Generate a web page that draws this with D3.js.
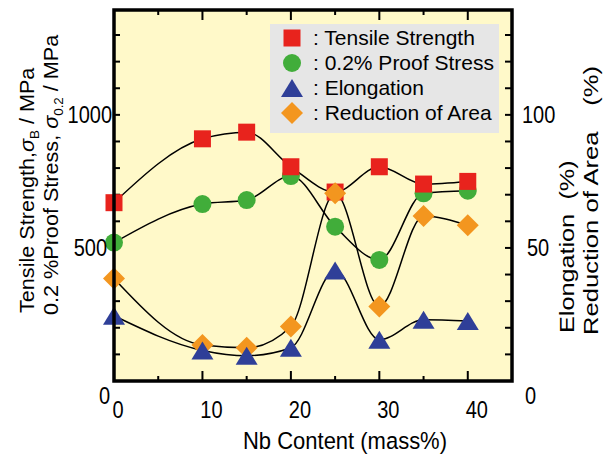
<!DOCTYPE html>
<html>
<head>
<meta charset="utf-8">
<script src="https://cdn.jsdelivr.net/npm/d3@7"></script>
<style>
  html, body { margin: 0; padding: 0; background: #ffffff; }
  svg { display: block; }
  text { font-family: "Liberation Sans", Arial, Helvetica, sans-serif; fill: #000; }
</style>
</head>
<body>
<svg id="chart" width="610" height="456"></svg>
<script>
// Nb content of each alloy (mass%)
const nbContent = [0, 10, 15, 20, 25, 30, 35, 40];
// Strength values (MPa), left axis
const tensileStrength = [670, 910, 935, 805, 710, 805, 740, 750];
const proofStress = [520, 665, 680, 770, 580, 455, 705, 715];
// Ductility values (%), right axis
const elongation = [24.5, 11.5, 9.5, 12.5, 41.5, 15.5, 23, 22.5];
const reductionOfArea = [38.5, 13.5, 12.5, 20.5, 70.5, 28, 62, 58.5];

// Tick values
const xMajorTicks = [10, 20, 30, 40];
const xMinorTicks = [5, 15, 25, 35];
const xTickLabels = ["0", "10", "20", "30", "40"];
const leftTickLabels = ["0", "500", "1000"];
const rightTickLabels = ["0", "50", "100"];

const legendItems = [
  { label: ": Tensile Strength", symbol: "square", color: "#e8231d" },
  { label: ": 0.2% Proof Stress", symbol: "circle", color: "#41ad3a" },
  { label: ": Elongation", symbol: "triangle", color: "#2f3f98" },
  { label: ": Reduction of Area", symbol: "diamond", color: "#f3961f" }
];

const svg = d3.select("#chart");
const plot = { left: 114, right: 512, top: 10, bottom: 381 };

const x = d3.scaleLinear().domain([0, 45]).range([plot.left, plot.right]);
const yLeft = d3.scaleLinear().domain([0, 1394]).range([plot.bottom, plot.top]);
const yRight = d3.scaleLinear().domain([0, 139.4]).range([plot.bottom, plot.top]);

// plot background
svg.append("rect")
  .attr("x", plot.left).attr("y", plot.top)
  .attr("width", plot.right - plot.left).attr("height", plot.bottom - plot.top)
  .attr("fill", "#fff9c9");

// tick marks (pointing inward on all four sides)
const tickG = svg.append("g").attr("stroke", "#000").attr("stroke-width", 2);
const leftTicks = d3.range(100, 1400, 100);
const rightTicks = d3.range(10, 140, 10);
leftTicks.forEach(v => {
  tickG.append("line").attr("x1", plot.left).attr("x2", plot.left + 6)
    .attr("y1", yLeft(v)).attr("y2", yLeft(v));
});
rightTicks.forEach(v => {
  tickG.append("line").attr("x1", plot.right).attr("x2", plot.right - 7)
    .attr("y1", yRight(v)).attr("y2", yRight(v));
});
xMajorTicks.forEach(v => {
  tickG.append("line").attr("x1", x(v)).attr("x2", x(v))
    .attr("y1", plot.bottom).attr("y2", plot.bottom - 10);
  tickG.append("line").attr("x1", x(v)).attr("x2", x(v))
    .attr("y1", plot.top).attr("y2", plot.top + 10);
});
xMinorTicks.forEach(v => {
  tickG.append("line").attr("x1", x(v)).attr("x2", x(v))
    .attr("y1", plot.bottom).attr("y2", plot.bottom - 5);
  tickG.append("line").attr("x1", x(v)).attr("x2", x(v))
    .attr("y1", plot.top).attr("y2", plot.top + 5);
});

// trend curves
const curveG = svg.append("g").attr("fill", "none").attr("stroke", "#000").attr("stroke-width", 1.5);
function drawCurve(values, yScale) {
  const pts = nbContent.map((n, i) => [x(n), yScale(values[i])]);
  curveG.append("path").attr("d", d3.line().curve(d3.curveMonotoneX)(pts));
}
drawCurve(tensileStrength, yLeft);
drawCurve(proofStress, yLeft);
drawCurve(elongation, yRight);
drawCurve(reductionOfArea, yRight);

// marker shapes
function symbolPath(type) {
  if (type === "square") return "M-8.5,-8.5H8.5V8.5H-8.5Z";
  if (type === "circle") return d3.arc()({ innerRadius: 0, outerRadius: 9, startAngle: 0, endAngle: 2 * Math.PI });
  if (type === "triangle") return "M0,-9L11,9L-11,9Z";
  return "M0,-11L11,0L0,11L-11,0Z";
}
function drawMarkers(values, yScale, item) {
  svg.append("g").selectAll("path").data(values).join("path")
    .attr("d", symbolPath(item.symbol))
    .attr("fill", item.color)
    .attr("transform", (d, i) => `translate(${x(nbContent[i])},${yScale(d)})`);
}
drawMarkers(proofStress, yLeft, legendItems[1]);
drawMarkers(tensileStrength, yLeft, legendItems[0]);
drawMarkers(reductionOfArea, yRight, legendItems[3]);
drawMarkers(elongation, yRight, legendItems[2]);

// frame
svg.append("rect")
  .attr("x", plot.left).attr("y", plot.top)
  .attr("width", plot.right - plot.left).attr("height", plot.bottom - plot.top)
  .attr("fill", "none").attr("stroke", "#000").attr("stroke-width", 3.5);

// text helper; glyphs may be stretched along the screen's vertical direction
function label(txt, px, py, size, anchor, rotate, stretch) {
  const k = stretch || 1.15;
  const t = svg.append("text")
    .attr("font-size", size)
    .attr("text-anchor", anchor || "start")
    .attr("transform", `translate(${px},${py}) scale(1,${k})${rotate ? " rotate(-90)" : ""}`);
  if (typeof txt === "string") t.text(txt);
  else txt(t);
  return t;
}

// left axis labels
label(leftTickLabels[2], 112, yLeft(1000) + 8, 20, "end");
label(leftTickLabels[1], 107, yLeft(500) + 8, 20, "end");
label(leftTickLabels[0], 110, 404, 20, "end");

// right axis labels
label(rightTickLabels[2], 522, yRight(100) + 8, 20, "start");
label(rightTickLabels[1], 527, yRight(50) + 8, 20, "start");
label(rightTickLabels[0], 525, 404, 20, "start");

// bottom axis labels
xTickLabels.forEach((s, i) => {
  const v = i * 10;
  label(s, x(v) + (i === 0 ? 4 : 9), 418, 20, "middle");
});

// axis titles
label("Nb Content (mass%)", 345, 449, 22, "middle", false, 1.08);

label(t => {
  t.append("tspan").text("Tensile Strength,");
  t.append("tspan").attr("font-style", "italic").text("σ");
  t.append("tspan").attr("font-size", 13).attr("dy", 5).text("B");
  t.append("tspan").attr("dy", -5).text(" / MPa");
}, 34, 313, 21, "start", true, 1.03);

label(t => {
  t.append("tspan").text("0.2 %Proof Stress, ");
  t.append("tspan").attr("font-style", "italic").text("σ");
  t.append("tspan").attr("font-size", 13).attr("dy", 5).text("0.2");
  t.append("tspan").attr("dy", -5).text(" / MPa");
}, 58, 315, 21, "start", true, 1.03);

label(t => {
  t.append("tspan").text("Elongation");
  t.append("tspan").attr("dx", 12).text("(%)");
}, 574, 333, 21, "start", true, 1.2);

label(t => {
  t.append("tspan").text("Reduction of Area");
  t.append("tspan").attr("dx", 21).text("(%)");
}, 598, 335, 21, "start", true, 1.22);

// legend
const legend = svg.append("g");
legend.append("rect").attr("x", 270).attr("y", 24).attr("width", 229).attr("height", 109).attr("fill", "#e6e6e6");
legendItems.forEach((item, i) => {
  const cy = 38 + i * 25;
  legend.append("path").attr("d", symbolPath(item.symbol)).attr("fill", item.color)
    .attr("transform", `translate(292,${cy})`);
  legend.append("text").attr("x", 313).attr("y", cy + 7).attr("font-size", 21).text(item.label);
});
</script>
</body>
</html>
